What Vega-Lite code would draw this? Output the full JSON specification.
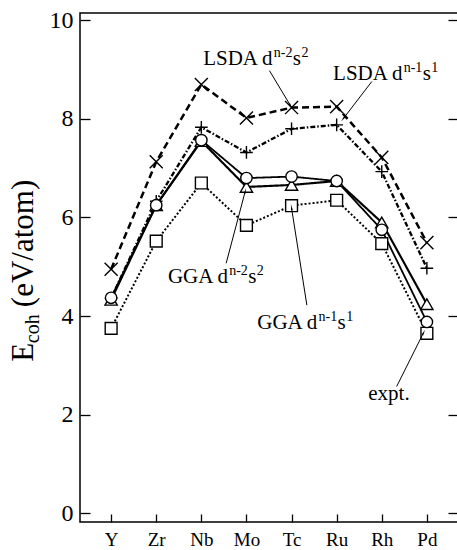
{
  "$schema": "https://vega.github.io/schema/vega-lite/v6.json",
  "width": 378,
  "height": 509,
  "autosize": "none",
  "padding": {"left": 80, "top": 13, "right": 0, "bottom": 30},
  "background": "white",
  "config": {
    "view": {"stroke": "black", "strokeWidth": 1.5},
    "font": "Liberation Serif, Times New Roman, serif",
    "text": {"font": "Liberation Serif, Times New Roman, serif"},
    "axis": {"labelFont": "Liberation Serif, Times New Roman, serif", "labelColor": "black", "tickColor": "black", "tickWidth": 1.3, "domain": false, "grid": false, "title": null}
  },
  "datasets": {
    "coh": [
      {"el": "Y", "i": 0, "series": "LSDA n-2", "v": 4.95},
      {"el": "Zr", "i": 1, "series": "LSDA n-2", "v": 7.13},
      {"el": "Nb", "i": 2, "series": "LSDA n-2", "v": 8.70},
      {"el": "Mo", "i": 3, "series": "LSDA n-2", "v": 8.02},
      {"el": "Tc", "i": 4, "series": "LSDA n-2", "v": 8.23},
      {"el": "Ru", "i": 5, "series": "LSDA n-2", "v": 8.25},
      {"el": "Rh", "i": 6, "series": "LSDA n-2", "v": 7.22},
      {"el": "Pd", "i": 7, "series": "LSDA n-2", "v": 5.49},
      {"el": "Y", "i": 0, "series": "LSDA n-1", "v": 4.36},
      {"el": "Zr", "i": 1, "series": "LSDA n-1", "v": 6.33},
      {"el": "Nb", "i": 2, "series": "LSDA n-1", "v": 7.83},
      {"el": "Mo", "i": 3, "series": "LSDA n-1", "v": 7.32},
      {"el": "Tc", "i": 4, "series": "LSDA n-1", "v": 7.80},
      {"el": "Ru", "i": 5, "series": "LSDA n-1", "v": 7.88},
      {"el": "Rh", "i": 6, "series": "LSDA n-1", "v": 6.93},
      {"el": "Pd", "i": 7, "series": "LSDA n-1", "v": 4.97},
      {"el": "Y", "i": 0, "series": "GGA n-2", "v": 4.33},
      {"el": "Zr", "i": 1, "series": "GGA n-2", "v": 6.25},
      {"el": "Nb", "i": 2, "series": "GGA n-2", "v": 7.55},
      {"el": "Mo", "i": 3, "series": "GGA n-2", "v": 6.62},
      {"el": "Tc", "i": 4, "series": "GGA n-2", "v": 6.66},
      {"el": "Ru", "i": 5, "series": "GGA n-2", "v": 6.74},
      {"el": "Rh", "i": 6, "series": "GGA n-2", "v": 5.90},
      {"el": "Pd", "i": 7, "series": "GGA n-2", "v": 4.24},
      {"el": "Y", "i": 0, "series": "GGA n-1", "v": 3.75},
      {"el": "Zr", "i": 1, "series": "GGA n-1", "v": 5.52},
      {"el": "Nb", "i": 2, "series": "GGA n-1", "v": 6.70},
      {"el": "Mo", "i": 3, "series": "GGA n-1", "v": 5.84},
      {"el": "Tc", "i": 4, "series": "GGA n-1", "v": 6.24},
      {"el": "Ru", "i": 5, "series": "GGA n-1", "v": 6.35},
      {"el": "Rh", "i": 6, "series": "GGA n-1", "v": 5.47},
      {"el": "Pd", "i": 7, "series": "GGA n-1", "v": 3.65},
      {"el": "Y", "i": 0, "series": "expt", "v": 4.37},
      {"el": "Zr", "i": 1, "series": "expt", "v": 6.25},
      {"el": "Nb", "i": 2, "series": "expt", "v": 7.57},
      {"el": "Mo", "i": 3, "series": "expt", "v": 6.80},
      {"el": "Tc", "i": 4, "series": "expt", "v": 6.83},
      {"el": "Ru", "i": 5, "series": "expt", "v": 6.74},
      {"el": "Rh", "i": 6, "series": "expt", "v": 5.75},
      {"el": "Pd", "i": 7, "series": "expt", "v": 3.88}
    ],
    "notes": [
      {"kind": "LSDA", "main": "LSDA d", "sup1": "n-2", "sup2": "2", "x": 2.04, "y": 9.09, "x1": 3.51, "y1": 8.98, "x2": 3.97, "y2": 8.28},
      {"kind": "LSDA", "main": "LSDA d", "sup1": "n-1", "sup2": "1", "x": 4.92, "y": 8.79, "x1": 5.78, "y1": 8.76, "x2": 5.15, "y2": 8.01},
      {"kind": "GGA", "main": "GGA d", "sup1": "n-2", "sup2": "2", "x": 1.26, "y": 4.67, "x1": 2.55, "y1": 5.07, "x2": 2.97, "y2": 6.52},
      {"kind": "GGA", "main": "GGA d", "sup1": "n-1", "sup2": "1", "x": 3.24, "y": 3.74, "x1": 4.34, "y1": 4.22, "x2": 4.0, "y2": 6.19},
      {"kind": "expt", "main": "expt.", "sup1": "", "sup2": "", "x": 5.70, "y": 2.30, "x1": 6.33, "y1": 2.57, "x2": 6.92, "y2": 3.65}
    ],
    "one": [{}]
  },
  "layer": [
    {
      "data": {"name": "coh"},
      "mark": {"type": "line", "color": "black"},
      "encoding": {
        "x": {"field": "i", "type": "quantitative", "scale": {"domain": [-0.69, 7.69], "nice": false, "zero": false},
          "axis": {"values": [0, 1, 2, 3, 4, 5, 6, 7], "labelExpr": "['Y','Zr','Nb','Mo','Tc','Ru','Rh','Pd'][datum.value]", "tickSize": -8, "labelFontSize": 19, "labelPadding": 16}},
        "y": {"field": "v", "type": "quantitative", "scale": {"domain": [-0.18, 10.15], "nice": false, "zero": false},
          "axis": {"orient": "left", "values": [0, 2, 4, 6, 8, 10], "format": "d", "tickSize": -10, "labelFontSize": 24, "labelPadding": 17}},
        "detail": {"field": "series"},
        "strokeDash": {"field": "series", "type": "nominal", "legend": null,
          "scale": {"domain": ["LSDA n-2", "LSDA n-1", "GGA n-2", "GGA n-1", "expt"], "range": [[7, 4], [5, 2, 1.5, 2], [1, 0], [2, 2], [1, 0]]}},
        "strokeWidth": {"field": "series", "type": "nominal", "legend": null,
          "scale": {"domain": ["LSDA n-2", "LSDA n-1", "GGA n-2", "GGA n-1", "expt"], "range": [2.5, 1.8, 1.3, 2.5, 3.5]}}
      }
    },
    {
      "data": {"name": "coh"},
      "mark": {"type": "point", "filled": false, "fill": "white", "fillOpacity": 1, "stroke": "black", "strokeWidth": 1.4, "opacity": 1},
      "encoding": {
        "x": {"field": "i", "type": "quantitative"},
        "y": {"field": "v", "type": "quantitative", "axis": null},
        "shape": {"field": "series", "type": "nominal", "legend": null,
          "scale": {"domain": ["LSDA n-2", "LSDA n-1", "GGA n-2", "GGA n-1", "expt"], "range": ["M-1,-1L1,1M-1,1L1,-1", "M-1,0L1,0M0,-1L0,1", "triangle-up", "square", "circle"]}},
        "size": {"field": "series", "type": "nominal", "legend": null,
          "scale": {"domain": ["LSDA n-2", "LSDA n-1", "GGA n-2", "GGA n-1", "expt"], "range": [170, 130, 110, 110, 125]}}
      }
    },
    {
      "data": {"name": "coh"},
      "mark": {"type": "point", "opacity": 0},
      "encoding": {
        "x": {"field": "i", "type": "quantitative"},
        "y": {"field": "v", "type": "quantitative",
          "axis": {"orient": "right", "values": [0, 2, 4, 6, 8, 10], "labels": false, "ticks": true, "tickSize": -10, "domain": false}}
      }
    },
    {
      "data": {"name": "notes"},
      "mark": {"type": "rule", "color": "black", "strokeWidth": 1},
      "encoding": {
        "x": {"field": "x1", "type": "quantitative"},
        "y": {"field": "y1", "type": "quantitative", "axis": null},
        "x2": {"field": "x2"},
        "y2": {"field": "y2"}
      }
    },
    {
      "data": {"name": "notes"},
      "mark": {"type": "text", "align": "left", "baseline": "alphabetic", "fontSize": 21, "color": "black"},
      "encoding": {
        "x": {"field": "x", "type": "quantitative"},
        "y": {"field": "y", "type": "quantitative", "axis": null},
        "text": {"field": "main"}
      }
    },
    {
      "data": {"name": "notes"},
      "transform": [{"filter": "datum.kind == 'LSDA'"}],
      "mark": {"type": "text", "align": "left", "baseline": "alphabetic", "fontSize": 14, "color": "black", "dx": 70.6, "dy": -8},
      "encoding": {"x": {"field": "x", "type": "quantitative"}, "y": {"field": "y", "type": "quantitative", "axis": null}, "text": {"field": "sup1"}}
    },
    {
      "data": {"name": "notes"},
      "transform": [{"filter": "datum.kind == 'LSDA'"}],
      "mark": {"type": "text", "align": "left", "baseline": "alphabetic", "fontSize": 21, "color": "black", "dx": 89.6, "text": "s"},
      "encoding": {"x": {"field": "x", "type": "quantitative"}, "y": {"field": "y", "type": "quantitative", "axis": null}}
    },
    {
      "data": {"name": "notes"},
      "transform": [{"filter": "datum.kind == 'LSDA'"}],
      "mark": {"type": "text", "align": "left", "baseline": "alphabetic", "fontSize": 14, "color": "black", "dx": 98.3, "dy": -8},
      "encoding": {"x": {"field": "x", "type": "quantitative"}, "y": {"field": "y", "type": "quantitative", "axis": null}, "text": {"field": "sup2"}}
    },
    {
      "data": {"name": "notes"},
      "transform": [{"filter": "datum.kind == 'GGA'"}],
      "mark": {"type": "text", "align": "left", "baseline": "alphabetic", "fontSize": 14, "color": "black", "dx": 61.2, "dy": -8},
      "encoding": {"x": {"field": "x", "type": "quantitative"}, "y": {"field": "y", "type": "quantitative", "axis": null}, "text": {"field": "sup1"}}
    },
    {
      "data": {"name": "notes"},
      "transform": [{"filter": "datum.kind == 'GGA'"}],
      "mark": {"type": "text", "align": "left", "baseline": "alphabetic", "fontSize": 21, "color": "black", "dx": 80.2, "text": "s"},
      "encoding": {"x": {"field": "x", "type": "quantitative"}, "y": {"field": "y", "type": "quantitative", "axis": null}}
    },
    {
      "data": {"name": "notes"},
      "transform": [{"filter": "datum.kind == 'GGA'"}],
      "mark": {"type": "text", "align": "left", "baseline": "alphabetic", "fontSize": 14, "color": "black", "dx": 88.9, "dy": -8},
      "encoding": {"x": {"field": "x", "type": "quantitative"}, "y": {"field": "y", "type": "quantitative", "axis": null}, "text": {"field": "sup2"}}
    },
    {"data": {"name": "one"}, "mark": {"type": "point", "shape": "wedge", "size": 45, "filled": true, "color": "black", "opacity": 1, "angle": 149},
     "encoding": {"x": {"datum": 3.97, "type": "quantitative"}, "y": {"datum": 8.28, "type": "quantitative", "axis": null}}},
    {"data": {"name": "one"}, "mark": {"type": "point", "shape": "wedge", "size": 45, "filled": true, "color": "black", "opacity": 1, "angle": 218},
     "encoding": {"x": {"datum": 5.15, "type": "quantitative"}, "y": {"datum": 8.01, "type": "quantitative", "axis": null}}},
    {"data": {"name": "one"}, "mark": {"type": "point", "shape": "wedge", "size": 45, "filled": true, "color": "black", "opacity": 1, "angle": 15},
     "encoding": {"x": {"datum": 2.97, "type": "quantitative"}, "y": {"datum": 6.52, "type": "quantitative", "axis": null}}},
    {"data": {"name": "one"}, "mark": {"type": "point", "shape": "wedge", "size": 45, "filled": true, "color": "black", "opacity": 1, "angle": 351},
     "encoding": {"x": {"datum": 4.0, "type": "quantitative"}, "y": {"datum": 6.19, "type": "quantitative", "axis": null}}},
    {"data": {"name": "one"}, "mark": {"type": "point", "shape": "wedge", "size": 45, "filled": true, "color": "black", "opacity": 1, "angle": 27},
     "encoding": {"x": {"datum": 6.92, "type": "quantitative"}, "y": {"datum": 3.65, "type": "quantitative", "axis": null}}},
    {"data": {"name": "one"}, "mark": {"type": "text", "angle": 270, "align": "left", "baseline": "alphabetic", "fontSize": 31, "color": "black", "text": "E"},
     "encoding": {"x": {"datum": -1.732, "type": "quantitative"}, "y": {"datum": 3.07, "type": "quantitative", "axis": null}}},
    {"data": {"name": "one"}, "mark": {"type": "text", "angle": 270, "align": "left", "baseline": "alphabetic", "fontSize": 20, "color": "black", "text": "coh"},
     "encoding": {"x": {"datum": -1.599, "type": "quantitative"}, "y": {"datum": 3.45, "type": "quantitative", "axis": null}}},
    {"data": {"name": "one"}, "mark": {"type": "text", "angle": 270, "align": "left", "baseline": "alphabetic", "fontSize": 31, "color": "black", "text": "(eV/atom)"},
     "encoding": {"x": {"datum": -1.732, "type": "quantitative"}, "y": {"datum": 4.18, "type": "quantitative", "axis": null}}}
  ],
  "resolve": {"axis": {"y": "independent"}}
}
